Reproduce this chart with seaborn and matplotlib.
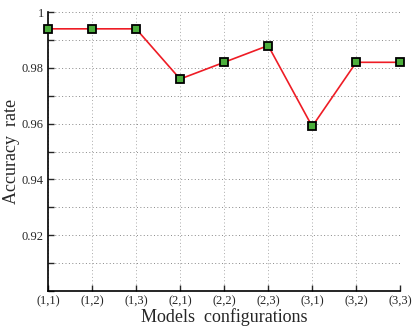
import matplotlib
matplotlib.use("Agg")
import matplotlib.pyplot as plt
import seaborn as sns
import pandas as pd
from matplotlib.ticker import MultipleLocator

configs = ["(1,1)", "(1,2)", "(1,3)", "(2,1)", "(2,2)", "(2,3)", "(3,1)", "(3,2)", "(3,3)"]
accuracy = [0.994, 0.994, 0.994, 0.976, 0.982, 0.988, 0.959, 0.982, 0.982]

sns.set_style("white")
plt.rcParams['font.family'] = ['Liberation Serif', 'DejaVu Serif']

df = pd.DataFrame({"pos": range(len(configs)), "acc": accuracy})

fig = plt.figure(figsize=(4.12, 3.27), dpi=100)
ax = fig.add_axes([0.1165, 0.110, 0.855, 0.853])

sns.lineplot(data=df, x="pos", y="acc", ax=ax, color="#ee1c25", linewidth=1.2,
             marker="s", markersize=6, markerfacecolor="#4cae3c",
             markeredgecolor="black", markeredgewidth=1.3, clip_on=False, zorder=5)

ax.set_xlim(0, len(configs) - 1)
ax.set_ylim(0.9, 1.0)
ax.set_xticks(range(len(configs)))
ax.set_xticklabels(configs)
ax.yaxis.set_minor_locator(MultipleLocator(0.01))
ax.set_yticks([0.92, 0.94, 0.96, 0.98, 1.0])
ax.set_yticklabels(["0.92", "0.94", "0.96", "0.98", "1"])

ax.grid(True, which="both", axis="y", linestyle=(0, (1, 2.5)), color="#888888", linewidth=0.7)
ax.grid(True, which="major", axis="x", linestyle=(0, (1, 2.5)), color="#aaaaaa", linewidth=0.7)

for s in ["top", "right"]:
    ax.spines[s].set_visible(False)
for s in ["left", "bottom"]:
    ax.spines[s].set_color("black")
    ax.spines[s].set_linewidth(1.2)

ax.tick_params(axis="both", which="major", direction="in", length=4, width=1, labelsize=9, pad=3, left=True, bottom=True)
ax.tick_params(axis="y", which="minor", direction="in", length=4, width=1, left=True)

ax.set_xlabel("Models  configurations", fontsize=13, labelpad=1)
ax.set_ylabel("Accuracy  rate", fontsize=13, labelpad=1)

fig.savefig("out.png", dpi=100)
